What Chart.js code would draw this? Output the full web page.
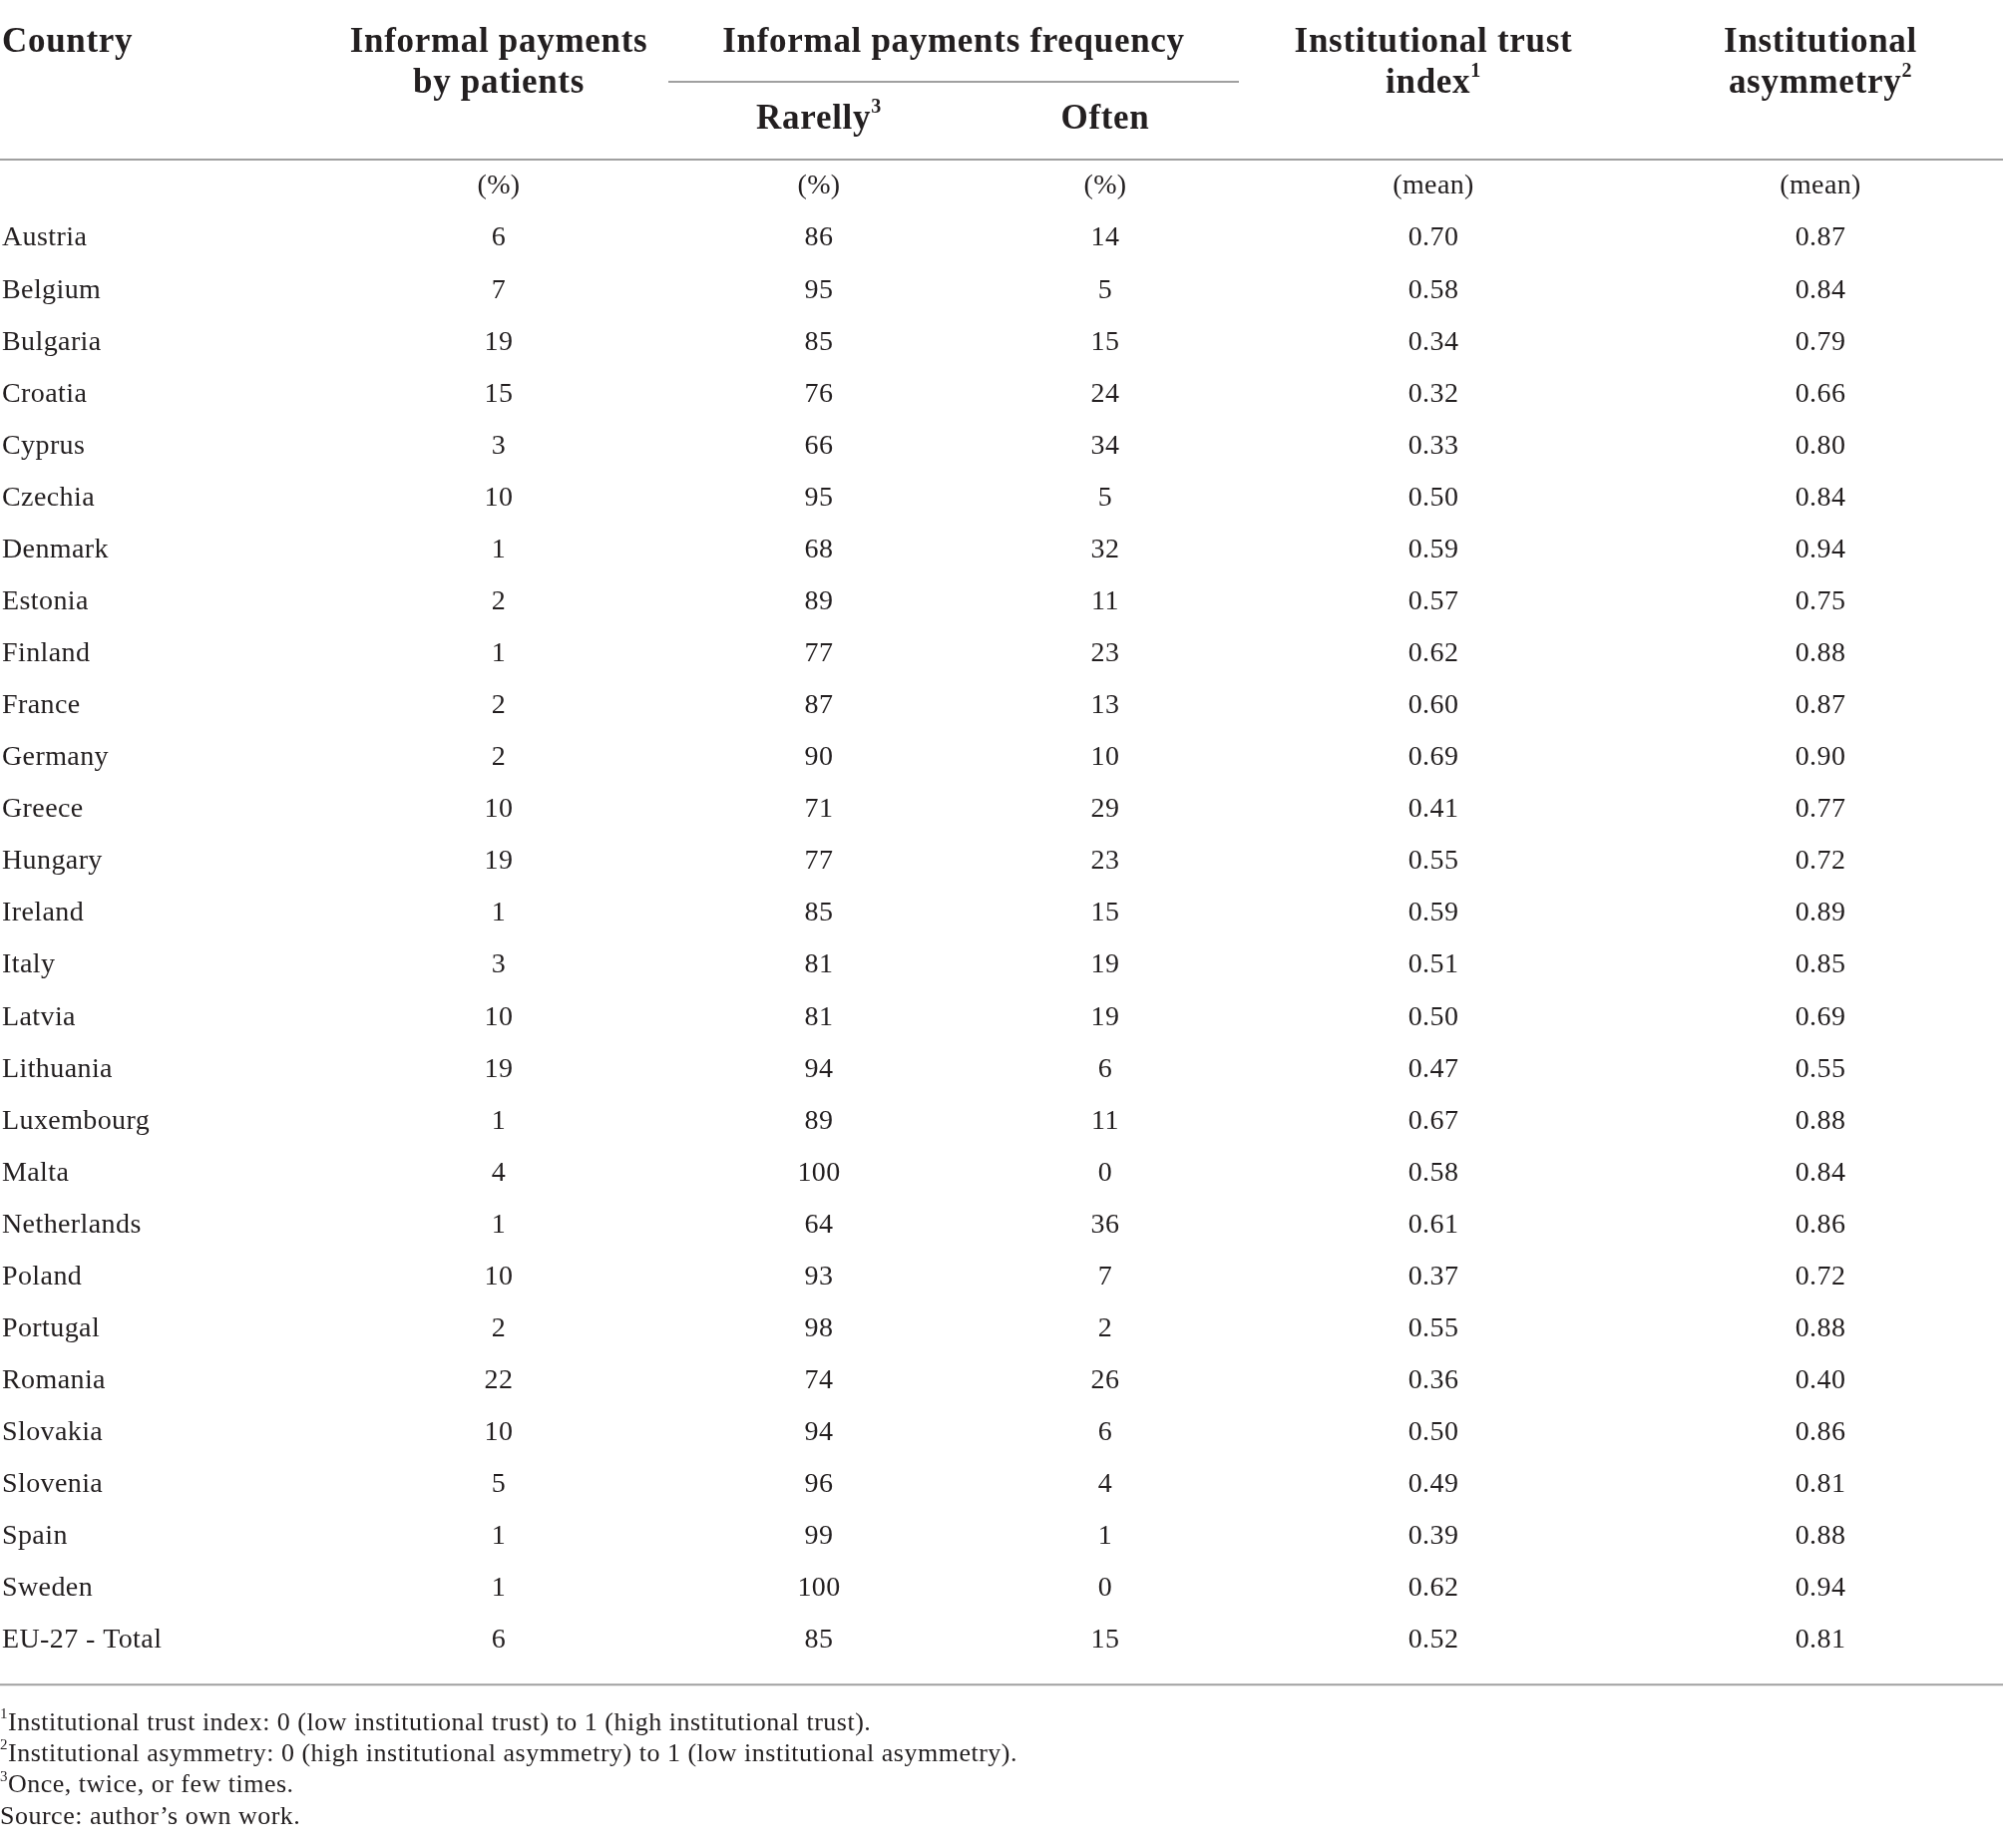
<!DOCTYPE html>
<html lang="en">
<head>
<meta charset="UTF-8">
<title>Informal payments and institutional trust</title>
<script src="https://cdn.jsdelivr.net/npm/chart.js@4.4.0/dist/chart.umd.min.js"></script>
<style>
    html, body { margin: 0; padding: 0; background: #fff; }
</style>
</head>
<body>
<canvas id="myChart" width="2008" height="1853"></canvas>
<script>
// table data
const countries = ['Austria', 'Belgium', 'Bulgaria', 'Croatia', 'Cyprus', 'Czechia', 'Denmark',
    'Estonia', 'Finland', 'France', 'Germany', 'Greece', 'Hungary', 'Ireland', 'Italy', 'Latvia',
    'Lithuania', 'Luxembourg', 'Malta', 'Netherlands', 'Poland', 'Portugal', 'Romania', 'Slovakia',
    'Slovenia', 'Spain', 'Sweden', 'EU-27 - Total'];
const paymentsPct = [6, 7, 19, 15, 3, 10, 1, 2, 1, 2, 2, 10, 19, 1, 3, 10, 19, 1, 4, 1, 10, 2, 22, 10, 5, 1, 1, 6];
const rarelyPct = [86, 95, 85, 76, 66, 95, 68, 89, 77, 87, 90, 71, 77, 85, 81, 81, 94, 89, 100, 64, 93, 98, 74, 94, 96, 99, 100, 85];
const oftenPct = [14, 5, 15, 24, 34, 5, 32, 11, 23, 13, 10, 29, 23, 15, 19, 19, 6, 11, 0, 36, 7, 2, 26, 6, 4, 1, 0, 15];
const trustIndex = [0.70, 0.58, 0.34, 0.32, 0.33, 0.50, 0.59, 0.57, 0.62, 0.60, 0.69, 0.41, 0.55, 0.59, 0.51, 0.50,
    0.47, 0.67, 0.58, 0.61, 0.37, 0.55, 0.36, 0.50, 0.49, 0.39, 0.62, 0.52];
const asymmetry = [0.87, 0.84, 0.79, 0.66, 0.80, 0.84, 0.94, 0.75, 0.88, 0.87, 0.90, 0.77, 0.72, 0.89, 0.85, 0.69,
    0.55, 0.88, 0.84, 0.86, 0.72, 0.88, 0.40, 0.86, 0.81, 0.88, 0.94, 0.81];
const units = ['(%)', '(%)', '(%)', '(mean)', '(mean)'];
const footnotes = [
    ['1', 'Institutional trust index: 0 (low institutional trust) to 1 (high institutional trust).'],
    ['2', 'Institutional asymmetry: 0 (high institutional asymmetry) to 1 (low institutional asymmetry).'],
    ['3', 'Once, twice, or few times.'],
    ['', 'Source: author\u2019s own work.']
];

// layout
const UNIT_ROW = 'units';
const rowKeys = [UNIT_ROW].concat(countries);
const colX = [500, 821, 1108, 1437, 1825];
const freqX = 956; // centre of the grouped "frequency" header
const countryX = 2;
const ink = '#231f20';
const ruleColor = '#a0a0a0';
const serif = '"Liberation Serif", "Times New Roman", serif';

function f_cells(p_values, p_dec) {
    return p_values.map(v => p_dec ? v.toFixed(p_dec) : String(v));
}

const columns = [
    { texts: f_cells(paymentsPct, 0) },
    { texts: f_cells(rarelyPct, 0) },
    { texts: f_cells(oftenPct, 0) },
    { texts: f_cells(trustIndex, 2) },
    { texts: f_cells(asymmetry, 2) }
];

// one invisible scatter dataset per column, text is drawn at each point
const datasets = columns.map((c, j) => ({
    label: 'col' + j,
    align: 'center',
    texts: [units[j]].concat(c.texts),
    data: rowKeys.map(r => ({ x: colX[j], y: r })),
    pointRadius: 0
}));
datasets.push({
    label: 'country',
    align: 'left',
    texts: countries,
    data: countries.map(r => ({ x: countryX, y: r })),
    pointRadius: 0
});

// draw text with superscript parts, centred or left aligned
function f_rich(ctx, parts, x, y, align, size, weight) {
    const supSize = Math.round(size * 0.58);
    let total = 0;
    const widths = parts.map(p => {
        ctx.font = weight + ' ' + (p.sup ? supSize : size) + 'px ' + serif;
        const w = ctx.measureText(p.t).width;
        total += w;
        return w;
    });
    let cx = align === 'center' ? x - total / 2 : x;
    parts.forEach((p, i) => {
        ctx.font = weight + ' ' + (p.sup ? supSize : size) + 'px ' + serif;
        ctx.textAlign = 'left';
        ctx.fillText(p.t, cx, p.sup ? y - size * 0.34 : y);
        cx += widths[i];
    });
}

function f_rule(ctx, x1, x2, y) {
    ctx.save();
    ctx.strokeStyle = ruleColor;
    ctx.lineWidth = 2;
    ctx.beginPath();
    ctx.moveTo(x1, y);
    ctx.lineTo(x2, y);
    ctx.stroke();
    ctx.restore();
}

const tablePlugin = {
    id: 'tableText',
    afterDatasetsDraw(chart) {
        const ctx = chart.ctx;
        const w = chart.width;
        ctx.save();
        ctx.fillStyle = ink;
        ctx.textBaseline = 'middle';

        // header
        ctx.letterSpacing = '0.7px';
        const hs = 35, hw = 'bold';
        f_rich(ctx, [{ t: 'Country' }], countryX, 43, 'left', hs, hw);
        f_rich(ctx, [{ t: 'Informal payments' }], colX[0], 43, 'center', hs, hw);
        f_rich(ctx, [{ t: 'by patients' }], colX[0], 84, 'center', hs, hw);
        f_rich(ctx, [{ t: 'Informal payments frequency' }], freqX, 43, 'center', hs, hw);
        f_rich(ctx, [{ t: 'Rarelly' }, { t: '3', sup: true }], colX[1], 120, 'center', hs, hw);
        f_rich(ctx, [{ t: 'Often' }], colX[2], 120, 'center', hs, hw);
        f_rich(ctx, [{ t: 'Institutional trust' }], colX[3], 43, 'center', hs, hw);
        f_rich(ctx, [{ t: 'index' }, { t: '1', sup: true }], colX[3], 84, 'center', hs, hw);
        f_rich(ctx, [{ t: 'Institutional' }], colX[4], 43, 'center', hs, hw);
        f_rich(ctx, [{ t: 'asymmetry' }, { t: '2', sup: true }], colX[4], 84, 'center', hs, hw);

        // body cells at the positions the scales give
        ctx.letterSpacing = '0.4px';
        ctx.font = '28px ' + serif;
        chart.data.datasets.forEach((ds, i) => {
            const meta = chart.getDatasetMeta(i);
            ctx.textAlign = ds.align;
            meta.data.forEach((el, k) => {
                ctx.fillText(ds.texts[k], el.x, el.y);
            });
        });

        // footnotes
        ctx.letterSpacing = '0.5px';
        const yLast = chart.scales.y.getPixelForValue(rowKeys.length - 1);
        const step = chart.scales.y.getPixelForValue(1) - chart.scales.y.getPixelForValue(0);
        footnotes.forEach((fn, i) => {
            const parts = fn[0] ? [{ t: fn[0], sup: true }, { t: fn[1] }] : [{ t: fn[1] }];
            f_rich(ctx, parts, 0, yLast + 83 + i * 31.3, 'left', 26, 'normal');
        });
        ctx.restore();

        // rules
        f_rule(ctx, freqX - 286, freqX + 286, 82);
        f_rule(ctx, 0, w, 160);
        f_rule(ctx, 0, w, yLast + step * 0.85);
    }
};

const ctx = document.getElementById('myChart').getContext('2d');
const myChart = new Chart(ctx, {
    type: 'scatter',
    data: { datasets: datasets },
    options: {
        responsive: false,
        animation: false,
        devicePixelRatio: 1,
        layout: { padding: { top: 187, bottom: 1853 - 1645, left: 0, right: 0 } },
        plugins: { legend: { display: false }, tooltip: { enabled: false } },
        scales: {
            x: { type: 'linear', min: 0, max: 2008, display: false },
            y: { type: 'category', labels: rowKeys, offset: false, display: false }
        }
    },
    plugins: [tablePlugin]
});
</script>
</body>
</html>
